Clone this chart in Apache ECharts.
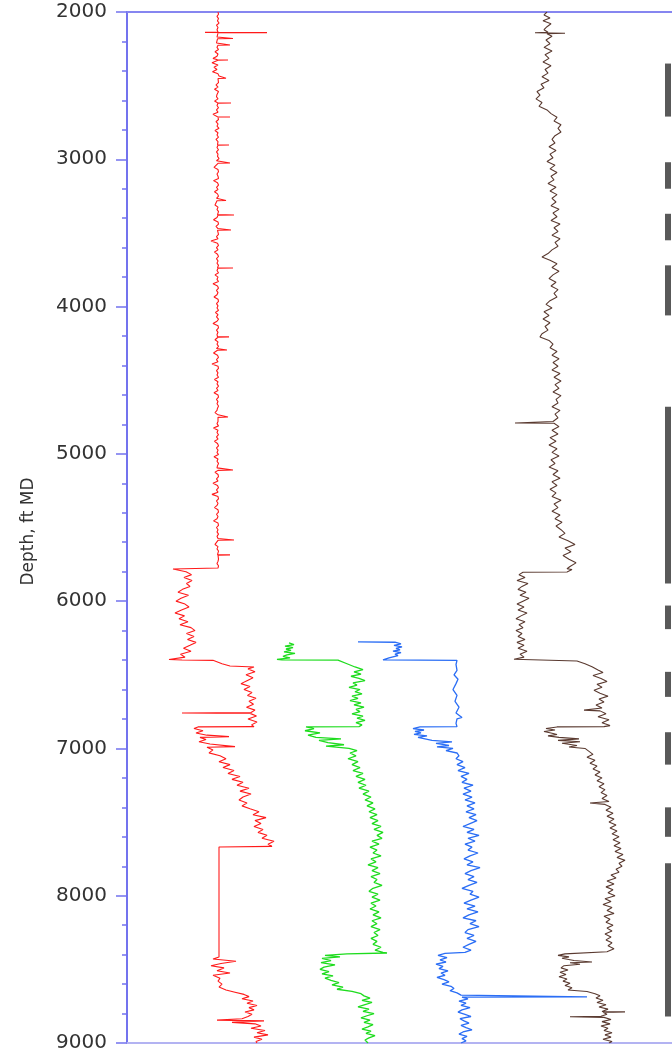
<!DOCTYPE html>
<html>
<head>
<meta charset="utf-8">
<script src="https://cdn.jsdelivr.net/npm/echarts@6/dist/echarts.min.js"></script>
<style>
  html, body { margin: 0; padding: 0; background: #fff; }
  #chart { width: 672px; height: 1053px; }
</style>
</head>
<body>
<div id="chart"></div>
<script>
// Well log curves: [depth (ft MD), track value]
const redLog = [
  [2000,18.2],[2015,18.3],[2030,18.0],[2045,18.3],[2060,18.1],[2075,18.4],[2090,17.9],[2105,18.2],[2120,18.0],
  [2136,18.2],[2138,15.6],[2140,28.0],[2142,18.2],
  [2155,18.3],[2170,18.0],[2178,18.2],[2180,21.2],[2182,18.1],[2195,18.3],[2210,17.9],[2222,18.2],
  [2224,20.6],[2226,18.2],[2240,18.0],[2255,18.3],[2270,17.6],[2285,18.2],[2300,18.0],[2315,17.2],
  [2324,18.1],[2326,20.2],[2328,18.2],[2345,17.0],[2360,18.2],[2375,17.4],[2390,18.0],[2405,17.1],[2420,18.2],[2435,18.4],
  [2448,18.1],[2450,19.8],[2452,18.2],[2465,18.0],[2480,18.3],[2495,17.8],[2510,18.2],[2525,17.5],[2540,18.3],
  [2560,18.0],[2575,17.9],[2590,18.2],[2605,17.5],[2616,18.1],[2618,20.8],[2620,18.2],[2635,18.0],[2650,18.3],
  [2665,17.9],[2680,18.2],[2695,17.2],[2711,18.1],[2713,20.6],[2715,18.2],[2730,18.3],[2745,17.8],[2760,18.2],
  [2775,18.0],[2790,18.4],[2805,17.6],[2820,18.2],[2835,18.0],[2850,18.3],[2865,17.8],[2880,18.2],
  [2901,18.1],[2903,20.4],[2905,18.2],[2920,18.0],[2935,18.3],[2950,17.9],[2965,18.2],[2980,18.1],[2995,18.4],[3010,17.9],
  [3023,18.1],[3025,20.6],[3027,18.2],[3040,18.0],[3055,17.4],[3070,18.2],[3085,18.3],[3100,18.0],[3115,18.2],
  [3130,18.3],[3145,17.3],[3160,18.1],[3175,18.3],[3190,17.9],[3205,18.2],[3220,17.5],[3235,18.1],[3250,18.3],[3265,17.9],
  [3278,18.2],[3280,19.8],[3282,18.0],[3295,18.2],[3310,17.6],[3325,18.2],[3340,18.0],[3355,18.3],
  [3376,18.1],[3378,21.4],[3380,18.2],[3395,18.0],[3410,17.3],[3425,18.2],[3440,18.3],[3455,17.8],[3470,18.2],
  [3478,18.1],[3480,20.8],[3482,18.1],[3495,18.0],[3510,18.3],[3525,17.9],[3540,18.2],[3555,16.8],[3570,18.1],[3585,18.3],
  [3600,17.9],[3615,18.2],[3630,17.5],[3645,18.1],[3660,18.3],[3675,17.9],[3690,18.2],[3705,18.0],[3720,18.3],
  [3736,18.1],[3738,21.2],[3740,18.2],[3755,18.0],[3770,18.3],[3785,17.6],[3800,18.2],[3815,18.0],[3830,18.3],[3845,17.2],
  [3860,18.1],[3875,18.3],[3890,17.9],[3905,18.2],[3920,18.0],[3935,17.4],[3950,18.2],[3965,18.3],[3980,17.9],[3995,18.2],
  [4010,18.0],[4025,18.3],[4040,17.7],[4055,18.2],[4070,17.9],[4085,18.3],[4100,18.0],[4115,17.2],[4130,18.2],[4145,18.3],
  [4160,17.9],[4175,18.2],[4190,18.0],[4204,18.1],[4206,20.4],[4208,18.2],[4225,17.6],[4240,18.2],[4255,18.0],[4270,18.3],
  [4285,17.9],[4293,18.2],[4295,20.0],[4297,18.1],[4315,17.3],[4330,18.1],[4345,18.3],[4360,17.9],[4375,18.2],[4390,17.0],
  [4405,18.2],[4420,18.3],[4435,17.9],[4450,18.2],[4465,18.0],[4480,18.3],[4495,17.5],[4510,18.2],[4525,18.0],[4540,18.3],
  [4555,17.9],[4570,18.2],[4585,17.4],[4600,18.2],[4615,18.3],[4630,17.9],[4645,18.2],[4660,18.0],[4675,18.3],[4690,18.1],
  [4705,18.0],[4720,17.6],[4735,18.2],[4748,18.1],[4750,20.2],[4752,18.2],[4765,17.9],[4780,18.2],[4795,18.0],[4810,18.3],
  [4825,17.3],[4840,18.2],[4855,18.0],[4870,18.3],[4885,17.9],[4900,18.2],[4915,17.5],[4930,18.1],[4945,18.3],[4960,17.9],
  [4975,18.2],[4990,18.0],[5005,18.3],[5020,17.4],[5035,18.2],[5050,18.0],[5065,18.3],[5080,18.1],[5095,18.0],
  [5108,18.1],[5110,21.2],[5112,18.2],[5125,17.6],[5140,18.2],[5155,18.3],[5170,17.9],[5185,18.2],[5200,17.2],[5215,18.1],
  [5230,18.3],[5245,17.9],[5260,18.2],[5275,17.0],[5290,18.2],[5305,18.3],[5320,17.9],[5335,18.2],[5350,18.0],[5365,17.5],
  [5380,18.2],[5395,18.3],[5410,17.9],[5425,18.2],[5440,18.0],[5455,17.3],[5470,18.2],[5485,18.3],[5500,17.9],[5515,18.2],
  [5530,18.0],[5545,18.3],[5560,18.0],[5575,18.2],[5583,18.1],[5585,21.4],[5587,18.2],[5600,18.0],[5615,17.6],[5630,18.2],
  [5645,18.0],[5660,18.3],[5684,18.1],[5686,20.6],[5688,18.2],[5700,17.9],[5715,18.3],[5730,18.2],[5745,18.0],[5760,18.3],
  [5775,18.2],[5780,18.3],
  [5782,9.2],[5800,11.8],[5820,12.9],[5840,11.4],[5860,13.0],[5880,11.9],[5900,12.6],[5920,11.1],[5940,10.2],[5960,12.3],
  [5980,10.8],[6000,9.8],[6020,11.6],[6040,12.4],[6060,10.9],[6080,9.6],[6100,11.5],[6120,10.4],[6140,12.2],[6160,10.6],
  [6180,12.8],[6200,13.6],[6220,11.9],[6240,13.4],[6260,12.1],[6280,13.8],[6300,12.6],[6320,11.3],[6340,12.8],[6360,10.7],
  [6380,11.6],[6396,8.4],[6400,11.0],
  [6402,17.2],[6425,19.0],[6440,20.6],[6447,25.4],[6460,24.2],[6480,25.6],[6500,23.8],[6520,25.2],[6540,24.0],[6560,22.8],
  [6580,24.6],[6600,23.4],[6620,25.0],[6640,24.1],[6660,25.8],[6680,24.4],[6700,25.3],[6720,23.9],[6740,25.6],[6756,24.8],
  [6759,11.0],[6762,24.6],[6780,25.9],[6800,24.2],[6820,26.0],[6840,24.9],[6852,25.4],
  [6854,14.2],[6865,13.4],[6880,15.2],[6895,13.8],[6910,16.0],[6920,20.4],[6925,14.6],[6940,15.8],[6955,14.4],[6970,16.6],
  [6988,21.6],[6992,16.0],
  [7010,17.2],[7030,16.4],[7050,18.6],[7070,19.8],[7090,18.4],[7110,20.6],[7130,19.2],[7150,21.4],[7170,20.2],[7190,22.6],
  [7210,21.0],[7230,23.2],[7250,22.0],[7270,24.4],[7290,22.6],[7310,24.8],[7330,23.2],[7350,22.4],[7370,24.0],[7390,23.0],
  [7410,24.6],[7430,26.4],[7450,25.2],[7470,27.8],[7490,25.6],[7510,26.8],[7530,25.4],[7550,27.2],[7570,26.2],[7590,28.0],
  [7610,27.0],[7630,29.4],[7650,28.2],[7665,29.0],
  [7669,18.4],[8416,18.4],
  [8430,17.2],[8445,21.8],[8460,18.8],[8475,16.8],[8490,19.4],[8510,18.0],[8525,20.6],[8540,17.2],[8560,18.6],[8580,18.2],
  [8600,19.0],[8620,18.4],[8640,19.8],
  [8655,21.6],[8670,23.4],[8685,24.4],[8700,23.0],[8715,25.2],[8730,24.0],[8745,26.0],[8760,24.4],[8775,25.4],[8790,23.6],
  [8805,25.0],[8820,24.2],[8835,23.0],[8845,18.0],[8850,27.4],[8860,21.0],[8870,25.6],[8885,26.8],[8900,24.8],[8915,27.6],
  [8930,26.0],[8945,28.2],[8960,25.4],[8975,27.0],[8990,25.8],[9000,26.0]
];

const greenLog = [
  [6284,32.4],[6295,33.4],[6305,31.6],[6315,33.2],[6325,31.8],[6335,32.8],[6345,31.4],[6355,33.6],[6365,32.0],[6375,31.2],
  [6385,32.6],[6395,30.0],[6399,31.0],
  [6401,42.2],[6425,44.0],[6447,45.6],[6465,47.2],[6480,45.4],[6495,46.8],[6510,44.8],[6525,46.4],[6540,47.6],[6555,45.2],
  [6570,46.0],[6585,44.4],[6600,46.6],[6615,45.6],[6630,47.0],[6645,45.0],[6660,46.2],[6675,44.6],[6690,46.8],[6705,45.4],
  [6720,47.4],[6735,45.8],[6750,46.6],[6765,45.0],[6780,47.2],[6795,46.0],[6810,47.6],[6825,45.8],[6840,47.0],[6852,46.4],
  [6854,35.8],[6865,37.4],[6880,35.6],[6895,38.6],[6910,36.2],[6925,37.8],[6935,42.8],[6945,38.4],[6960,40.2],[6975,43.4],
  [6985,39.8],[7000,44.4],[7015,46.0],[7031,44.6],
  [7050,45.8],[7070,44.2],[7090,46.2],[7110,45.0],[7130,46.6],[7150,45.2],[7170,47.2],[7190,45.8],[7210,47.6],[7230,46.2],
  [7250,47.8],[7270,46.4],[7290,48.4],[7310,47.2],[7330,48.8],[7350,47.6],[7370,49.2],[7390,48.0],[7410,49.6],[7430,48.4],
  [7450,50.0],[7470,48.6],[7490,50.2],[7510,49.0],[7530,50.8],[7550,49.4],[7570,51.2],[7590,50.0],[7610,51.0],
  [7630,49.0],[7650,50.4],[7670,48.6],[7690,50.0],[7710,49.2],[7730,50.8],[7750,48.8],[7770,49.8],[7790,48.2],[7810,50.2],
  [7830,49.0],[7850,50.6],[7870,48.8],[7890,50.0],[7910,49.4],[7930,51.0],[7950,49.2],[7970,48.4],[7990,50.2],[8010,49.0],
  [8030,50.6],[8050,48.8],[8070,49.8],[8090,48.6],[8110,50.4],[8130,49.2],[8150,50.8],[8170,49.0],[8190,50.0],[8210,48.8],
  [8230,50.6],[8250,49.4],[8270,50.2],[8290,48.8],[8310,50.0],[8330,49.2],[8350,50.8],[8370,49.6],[8385,51.2],[8389,52.0],
  [8395,44.0],[8405,39.6],[8415,42.6],[8425,39.0],[8440,40.8],[8455,38.8],[8470,41.6],[8485,39.4],[8500,38.6],[8515,40.4],
  [8530,39.0],[8545,41.2],[8560,39.6],[8575,40.8],[8590,42.4],[8605,41.0],[8620,43.2],[8635,42.0],
  [8650,45.0],[8665,46.8],[8680,47.4],[8695,48.6],[8710,47.0],[8725,49.0],[8740,47.6],[8755,46.2],[8770,48.4],[8785,47.2],
  [8800,49.4],[8815,48.0],[8830,46.8],[8845,48.6],[8860,47.4],[8875,49.2],[8890,48.2],[8905,47.0],[8920,48.8],[8935,47.8],
  [8950,49.6],[8965,48.4],[8980,47.6],[9000,48.2]
];

const blueLog = [
  [6277,46.2],[6279,53.6],[6290,54.8],[6300,53.4],[6310,55.0],[6320,53.8],[6330,54.6],[6340,53.2],[6350,54.8],[6360,53.6],
  [6370,54.2],[6385,52.4],[6399,51.2],
  [6402,66.0],[6430,65.8],[6470,66.0],[6500,65.4],[6530,66.2],[6560,65.8],[6600,65.2],[6640,66.0],[6680,65.6],[6720,66.4],
  [6760,65.8],[6790,67.0],[6800,66.0],[6830,65.8],[6852,66.0],
  [6854,58.6],[6865,57.2],[6875,59.4],[6885,57.6],[6895,58.8],[6905,57.4],[6915,60.0],[6925,58.2],[6935,59.6],[6945,61.0],
  [6955,65.0],[6965,61.8],[6980,64.4],[6990,62.0],[7000,65.2],[7015,63.8],[7031,66.0],
  [7050,66.4],[7070,65.8],[7090,67.2],[7110,66.0],[7130,67.6],[7150,66.2],[7170,68.4],[7190,66.8],[7210,68.0],[7230,67.0],
  [7250,69.2],[7270,67.4],[7290,68.8],[7310,67.2],[7330,69.0],[7350,67.6],[7370,69.6],[7390,68.0],[7410,69.4],[7430,67.8],
  [7450,69.8],[7470,68.4],[7490,70.0],
  [7510,68.6],[7530,67.2],[7550,69.4],[7570,68.0],[7590,70.4],[7610,68.2],[7630,69.6],[7650,67.6],[7670,69.0],[7690,68.2],
  [7710,70.2],[7730,68.6],[7750,67.4],[7770,69.2],[7790,68.0],[7810,70.6],[7830,68.8],[7850,67.6],[7870,69.4],[7890,68.2],
  [7910,70.0],[7930,68.4],[7950,67.0],[7970,69.2],[7990,68.6],[8010,70.4],[8030,68.8],[8050,67.4],[8070,69.6],[8090,68.0],
  [8110,70.2],[8130,68.4],[8150,67.2],[8170,69.8],[8190,68.6],[8210,70.4],[8230,68.2],[8250,67.6],[8270,69.4],[8290,68.0],
  [8310,69.8],[8330,68.4],[8350,67.2],[8370,68.8],[8385,67.6],
  [8392,63.6],[8405,62.2],[8420,64.0],[8435,62.6],[8450,63.8],[8465,61.8],[8480,63.2],[8495,62.4],[8510,64.2],[8525,62.8],
  [8540,63.6],[8555,62.0],[8570,63.4],[8585,64.4],[8600,63.0],[8615,64.8],[8630,65.4],[8645,64.6],[8660,66.0],[8675,66.8],
  [8685,67.2],[8687,92.0],[8689,67.0],
  [8700,68.2],[8715,66.4],[8730,67.8],[8745,66.8],[8760,68.6],[8775,67.0],[8790,66.2],[8805,67.6],[8820,68.8],[8835,66.6],
  [8850,67.4],[8865,68.4],[8880,66.8],[8895,67.8],[8910,69.0],[8925,67.2],[8940,66.4],[8955,68.0],[8970,67.0],[8985,67.8],
  [9000,66.8]
];

const brownLog = [
  [2000,84.0],[2020,83.4],[2040,84.6],[2060,83.2],[2080,84.8],[2100,84.0],[2120,83.4],[2138,84.2],[2141,81.6],[2144,87.6],
  [2147,84.0],[2165,85.0],[2190,83.8],[2215,84.6],[2240,83.4],[2265,85.0],[2290,83.6],[2315,84.4],[2340,83.2],[2365,84.8],
  [2390,83.6],[2415,84.2],[2440,83.0],[2465,84.4],[2490,82.8],[2515,83.4],[2540,82.0],[2565,82.6],[2590,81.8],[2615,83.0],
  [2640,82.4],[2665,84.0],[2690,84.8],[2715,86.0],[2740,85.4],[2765,86.8],[2790,86.2],[2815,86.8],[2840,85.6],[2865,85.0],
  [2890,85.6],[2915,84.4],[2940,85.8],[2965,84.6],[2990,85.2],[3015,84.0],[3040,85.6],[3065,84.6],[3090,86.0],[3115,84.8],
  [3140,85.4],[3165,84.2],[3190,85.8],[3215,84.6],[3240,86.0],[3265,85.0],[3290,85.8],[3315,84.8],[3340,86.4],[3365,85.2],
  [3390,86.0],[3415,84.8],[3440,86.6],[3465,85.4],[3490,86.2],[3515,85.0],[3540,86.6],[3565,85.6],[3590,86.2],[3615,85.0],
  [3640,84.2],[3663,83.0],[3685,84.6],[3710,86.0],[3735,85.0],[3760,86.4],[3785,85.2],[3810,84.4],[3835,85.8],[3860,84.8],
  [3885,86.2],[3910,85.4],[3935,86.0],[3960,84.6],[3985,83.8],[4010,85.0],[4035,83.4],[4060,84.4],[4085,83.2],[4110,84.6],
  [4135,83.6],[4160,84.2],[4185,83.0],[4206,82.6],[4230,84.4],[4255,85.2],[4280,84.6],[4305,86.0],[4330,85.0],[4355,86.4],
  [4380,85.2],[4405,86.2],[4430,85.0],[4455,86.6],[4480,85.4],[4505,86.8],[4530,85.6],[4555,86.4],[4580,85.2],[4605,86.8],
  [4630,85.8],[4655,86.2],[4680,85.0],[4705,86.6],[4730,85.6],[4755,86.2],[4780,85.2],[4788,85.6],[4790,77.6],[4792,85.4],
  [4815,86.4],[4840,85.0],[4865,86.2],[4890,84.6],[4915,85.8],[4940,84.4],[4965,86.0],[4990,85.0],[5015,86.4],[5040,84.8],
  [5065,85.6],[5090,84.4],[5115,86.2],[5140,85.2],[5165,86.6],[5190,85.0],[5215,86.0],[5240,84.6],[5265,85.8],[5290,85.0],
  [5315,86.8],[5340,85.4],[5365,86.2],[5390,85.0],[5415,86.6],[5440,85.6],[5465,87.0],[5490,85.8],[5515,86.8],[5540,87.6],
  [5565,86.4],[5590,88.2],[5615,89.6],[5640,87.6],[5665,88.8],[5690,87.2],[5715,88.4],[5740,89.8],[5765,88.6],[5780,88.0],
  [5785,89.0],[5802,88.0],
  [5804,79.2],[5820,78.4],[5840,79.6],[5860,78.0],[5880,80.2],[5900,79.0],[5920,78.2],[5940,79.8],[5960,78.6],[5980,80.4],
  [6000,79.2],[6020,78.0],[6040,79.4],[6060,78.2],[6080,80.0],[6100,78.8],[6120,77.8],[6140,79.6],[6160,78.4],[6180,79.2],
  [6200,77.8],[6220,79.0],[6240,78.2],[6260,79.6],[6280,78.0],[6300,79.4],[6320,78.2],[6340,80.0],[6360,78.6],[6380,79.4],
  [6395,77.4],[6399,77.2],
  [6406,90.0],[6425,91.6],[6445,93.0],[6467,94.2],[6485,95.2],[6505,93.2],[6525,94.8],[6545,96.0],[6565,94.0],[6585,95.0],
  [6605,93.4],[6625,94.6],[6645,96.2],[6665,94.4],[6685,95.4],[6705,93.8],[6725,95.0],[6740,91.4],[6745,94.6],[6765,95.8],
  [6785,94.2],[6805,96.4],[6825,95.0],[6845,96.6],[6852,95.4],
  [6854,86.0],[6865,83.8],[6875,85.6],[6885,83.4],[6895,84.8],[6905,86.0],[6915,84.2],[6925,86.4],[6935,90.4],[6945,86.2],
  [6955,90.6],[6965,87.0],[6980,90.0],[6990,88.4],[7000,91.6],[7020,92.4],[7040,93.2],[7060,92.0],[7080,93.6],
  [7100,92.6],[7120,94.0],[7140,93.2],[7160,94.6],[7180,93.6],[7200,95.0],[7220,94.0],[7240,95.4],[7260,94.4],[7280,95.6],
  [7300,94.8],[7320,96.0],[7340,95.0],[7360,96.4],[7370,92.6],[7380,95.6],[7400,96.8],[7420,95.8],[7440,97.2],[7460,96.0],
  [7480,97.4],[7500,96.4],[7520,97.8],[7540,96.6],[7560,98.0],[7580,97.0],[7600,98.4],[7620,97.2],[7640,98.6],[7660,97.4],
  [7680,98.8],[7700,97.6],[7720,99.2],[7740,98.0],[7760,99.6],[7780,98.4],[7800,99.0],[7820,97.8],[7840,98.4],[7860,96.8],
  [7880,97.8],[7900,96.0],[7920,97.4],[7940,95.8],[7960,97.2],[7980,96.2],[8000,97.6],[8020,95.6],[8040,96.8],[8060,95.2],
  [8080,97.0],[8100,96.0],[8120,97.4],[8140,95.4],[8160,96.6],[8180,95.8],[8200,97.2],[8220,96.0],[8240,97.0],[8260,95.6],
  [8280,96.8],[8300,95.8],[8320,97.0],[8340,96.2],[8360,97.4],[8380,96.0],[8389,95.6],
  [8395,87.6],[8405,86.2],[8415,88.4],[8425,87.0],[8440,89.4],[8450,93.0],[8455,88.6],[8465,90.6],[8475,87.4],[8490,86.8],
  [8505,88.2],[8520,86.6],[8535,87.8],[8550,86.4],[8565,88.0],[8580,87.2],[8595,88.6],[8610,87.6],[8625,89.0],[8640,88.2],
  [8650,92.0],[8665,93.6],[8680,94.6],[8695,93.8],[8710,95.2],[8725,94.0],[8740,95.8],[8755,94.4],[8770,96.2],[8786,95.0],
  [8789,99.6],[8792,95.2],[8805,96.0],[8818,94.8],[8822,88.6],[8826,95.4],[8840,96.8],[8855,95.0],[8870,96.6],[8885,94.8],
  [8900,96.2],[8915,95.4],[8930,97.0],[8945,95.6],[8960,96.8],[8975,95.2],[8990,97.0],[9000,96.4]
];

// Cored intervals [top, base] in ft MD, drawn as a strip on the right of the track
const coreTrackValue = 108.2;
const coreIntervals = [
  [2350, 2710], [3020, 3200], [3370, 3550], [3720, 4060], [4680, 5880],
  [6030, 6190], [6480, 6650], [6890, 7110], [7400, 7600], [7780, 8820]
];

const depthMin = 2000, depthMax = 9000, depthStep = 1000;
const trackMin = 0, trackMax = 109;

const toXY = log => log.map(([d, v]) => [v, d]);

const chart = echarts.init(document.getElementById('chart'), null, { renderer: 'canvas' });

const curve = (name, log, color, width) => ({
  name, type: 'line', data: toXY(log), showSymbol: false, symbol: 'none',
  lineStyle: { color, width }, itemStyle: { color }, clip: true, animation: false,
  z: 3
});

chart.setOption({
  animation: false,
  backgroundColor: '#ffffff',
  grid: { left: 127, top: 12, bottom: 10, right: 0, containLabel: false },
  xAxis: [
    {
      type: 'value', min: trackMin, max: trackMax, position: 'bottom',
      axisLine: { show: true, lineStyle: { color: '#b3b3f2', width: 2 } },
      axisTick: { show: false }, axisLabel: { show: false }, splitLine: { show: false }
    },
    {
      type: 'value', min: trackMin, max: trackMax, position: 'top',
      axisLine: { show: true, lineStyle: { color: '#8686f0', width: 2 } },
      axisTick: { show: false }, axisLabel: { show: false }, splitLine: { show: false }
    }
  ],
  yAxis: {
    type: 'value', inverse: true, min: depthMin, max: depthMax, interval: depthStep,
    name: 'Depth, ft MD', nameLocation: 'middle', nameGap: 90,
    nameTextStyle: { fontFamily: 'DejaVu Sans', fontSize: 17, color: '#333', padding: [0, 8, 0, 0] },
    axisLine: { show: true, lineStyle: { color: '#7373ee', width: 2 } },
    axisTick: { show: true, length: 11, lineStyle: { color: '#7373ee', width: 1.5 } },
    minorTick: { show: true, splitNumber: 5, length: 5, lineStyle: { color: '#7373ee', width: 1.5 } },
    axisLabel: { margin: 20, fontFamily: 'DejaVu Sans', fontSize: 20, color: '#333', formatter: v => String(v) },
    splitLine: { show: false }
  },
  series: [
    curve('Red', redLog, '#ff1a1a', 1.1),
    curve('Green', greenLog, '#1edc1e', 1.3),
    curve('Blue', blueLog, '#2b6ef5', 1.3),
    curve('Brown', brownLog, '#5a3a30', 1.1),
    {
      name: 'Core', type: 'custom', animation: false, z: 2,
      data: coreIntervals.map(([top, base]) => [coreTrackValue, top, base]),
      encode: { x: 0, y: [1, 2] },
      renderItem: (params, api) => {
        const a = api.coord([api.value(0), api.value(1)]);
        const b = api.coord([api.value(0), api.value(2)]);
        return { type: 'rect', shape: { x: a[0] - 3, y: a[1], width: 6, height: b[1] - a[1] }, style: { fill: '#595959' } };
      }
    }
  ]
});
</script>
</body>
</html>
